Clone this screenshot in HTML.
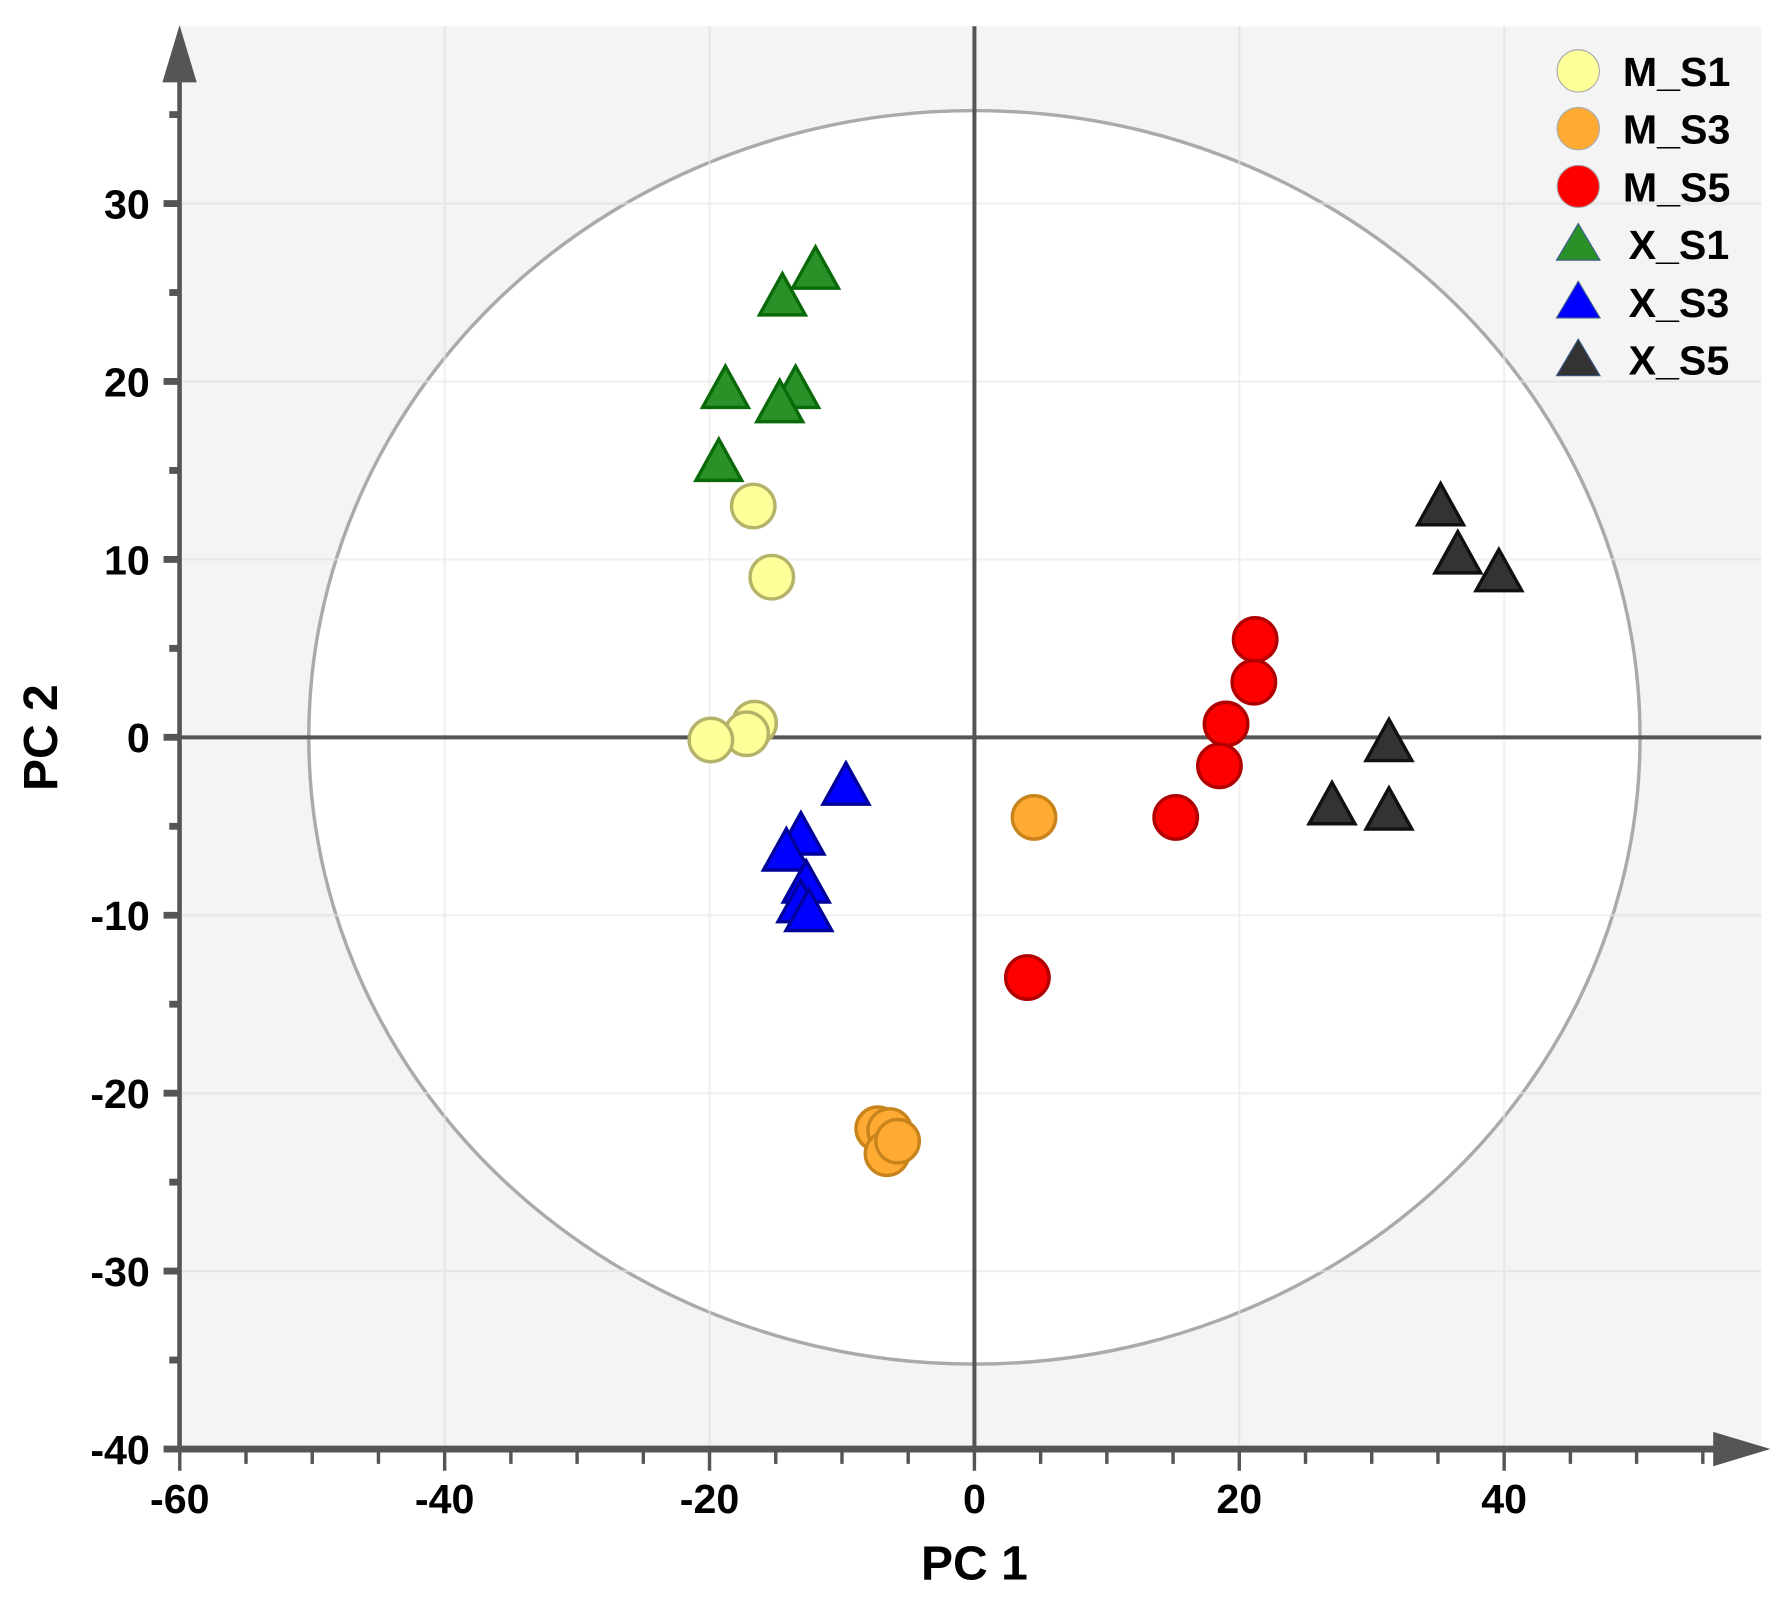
<!DOCTYPE html>
<html><head><meta charset="utf-8"><style>
html,body{margin:0;padding:0;background:#fff}
svg{display:block}
text{font-family:"Liberation Sans",Arial,sans-serif;font-weight:bold;fill:#000}
</style></head><body>
<svg id="chart" width="1791" height="1600" viewBox="0 0 1566 1399" xmlns="http://www.w3.org/2000/svg">
<g id="bg"></g><g id="grid"></g><g id="axes"></g><g id="marks"></g><g id="legend"></g>
</svg>
<script>
const xTicks=[-60,-40,-20,0,20,40];
const yTicks=[-40,-30,-20,-10,0,10,20,30];
const seriesNames=["M_S1","M_S3","M_S5","X_S1","X_S3","X_S5"];
const seriesShapes=["circle","circle","circle","tri","tri","tri"];
const seriesFill=["#ffff99","#ffaa33","#ff0000","#2a9128","#0000ff","#333333"];
const seriesStroke=["#b5b36a","#c8841b","#b00000","#0a6a0a","#00009a","#111111"];
const mS1x=[-16.7,-15.3,-16.6,-17.2,-19.9];
const mS1y=[13.0,9.0,0.8,0.2,-0.15];
const mS3x=[4.5,-7.3,-6.4,-6.6,-5.8];
const mS3y=[-4.5,-22.0,-22.1,-23.4,-22.7];
const mS5x=[21.2,21.1,19.0,18.5,15.2,4.0];
const mS5y=[5.5,3.1,0.75,-1.6,-4.5,-13.5];
const xS1x=[-12.0,-14.5,-18.8,-13.5,-14.7,-19.3];
const xS1y=[26.4,24.9,19.7,19.7,18.9,15.6];
const xS3x=[-9.7,-13.1,-14.2,-12.7,-13.1,-12.5];
const xS3y=[-2.6,-5.4,-6.3,-8.1,-9.2,-9.7];
const xS5x=[35.2,36.5,39.6,31.3,27.0,31.3];
const xS5y=[13.1,10.4,9.4,-0.15,-3.7,-4.0];
const allX=[mS1x,mS3x,mS5x,xS1x,xS3x,xS5x];
const allY=[mS1y,mS3y,mS5y,xS1y,xS3y,xS5y];

const NS="http://www.w3.org/2000/svg";
const X=v=>852+v*11.58;
const Y=v=>644.7-v*15.557;
function mk(tag,attrs,parent){const e=document.createElementNS(NS,tag);for(const k in attrs)e.setAttribute(k,attrs[k]);document.getElementById(parent).appendChild(e);return e;}

let e;
e=mk('rect',{x:157,y:23,width:1383,height:1244,fill:'#f4f4f4'},'bg');


[-40,-20,20,40].forEach(v=>{e=mk('line',{x1:X(v),x2:X(v),y1:23,y2:1267,stroke:'#e6e6e6','stroke-width':2},'bg');

});
yTicks.forEach(v=>{if(v!==0&&v!==-40){e=mk('line',{x1:157,x2:1540,y1:Y(v),y2:Y(v),stroke:'#e6e6e6','stroke-width':2},'bg');

}});
e=mk('ellipse',{cx:X(0),cy:Y(0),rx:582,ry:548,fill:'#fff',stroke:'#aaaaaa','stroke-width':3},'grid');


[-40,-20,20,40].forEach(v=>{e=mk('line',{x1:X(v),x2:X(v),y1:23,y2:1267,stroke:'#e9e9e9','stroke-width':2,opacity:0.6},'grid');

});
yTicks.forEach(v=>{if(v!==0&&v!==-40){e=mk('line',{x1:157,x2:1540,y1:Y(v),y2:Y(v),stroke:'#e9e9e9','stroke-width':2,opacity:0.6},'grid');

}});
e=mk('line',{x1:X(0),x2:X(0),y1:23,y2:1267,stroke:'#555','stroke-width':3.5},'grid');


e=mk('line',{x1:157,x2:1540,y1:Y(0),y2:Y(0),stroke:'#555','stroke-width':3.5},'grid');



e=mk('line',{x1:157,x2:157,y1:70,y2:1269,stroke:'#555','stroke-width':4},'axes');


e=mk('polygon',{points:'157,22 142,72 172,72',fill:'#555'},'axes');


e=mk('line',{x1:155,x2:1500,y1:1267,y2:1267,stroke:'#555','stroke-width':6},'axes');


e=mk('polygon',{points:'1548,1267 1498,1252 1498,1282',fill:'#555'},'axes');


for(let v=-60;v<=55;v+=5){const major=v%20===0;
e=mk('line',{x1:X(v),x2:X(v),y1:1267,y2:major?1286:1280,stroke:'#555','stroke-width':3},'axes');

}
for(let v=-40;v<=35;v+=5){const major=v%10===0;
e=mk('line',{x1:major?143:148,x2:157,y1:Y(v),y2:Y(v),stroke:'#555','stroke-width':6},'axes');

}
xTicks.forEach(v=>{e=mk('text',{x:X(v),y:1323,'text-anchor':'middle','font-size':36},'axes');e.textContent=v;

});
yTicks.forEach(v=>{e=mk('text',{x:131,y:Y(v)+13,'text-anchor':'end','font-size':36},'axes');e.textContent=v;

});
e=mk('text',{x:852,y:1381,'text-anchor':'middle','font-size':42},'axes');e.textContent='PC 1';


e=mk('text',{x:50,y:645,'text-anchor':'middle','font-size':42,transform:'rotate(-90 50 645)'},'axes');e.textContent='PC 2';



function tri(cx,cy,w,h){return `${cx},${cy-h/2} ${cx-w/2},${cy+h/2} ${cx+w/2},${cy+h/2}`;}
allX.forEach((xs,s)=>{xs.forEach((xv,i)=>{const cx=X(xv),cy=Y(allY[s][i]);
if(seriesShapes[s]==='circle'){e=mk('circle',{cx,cy,r:19,fill:seriesFill[s],stroke:seriesStroke[s],'stroke-width':3},'marks');}
else{e=mk('polygon',{points:tri(cx,cy,40,36),fill:seriesFill[s],stroke:seriesStroke[s],'stroke-width':3,'stroke-linejoin':'miter'},'marks');}

});});

seriesNames.forEach((n,s)=>{const cy=62+s*50.5;
if(seriesShapes[s]==='circle'){e=mk('circle',{cx:1380,cy,r:18.5,fill:seriesFill[s],stroke:'#aaa','stroke-width':1},'legend');}
else{e=mk('polygon',{points:tri(1380,cy-2,38,32),fill:seriesFill[s],stroke:'#3a5a8a','stroke-width':1},'legend');}


e=mk('text',{x:seriesShapes[s]==='circle'?1419:1424,y:cy+13,'font-size':36},'legend');e.textContent=n;

});
</script>
</body></html>
